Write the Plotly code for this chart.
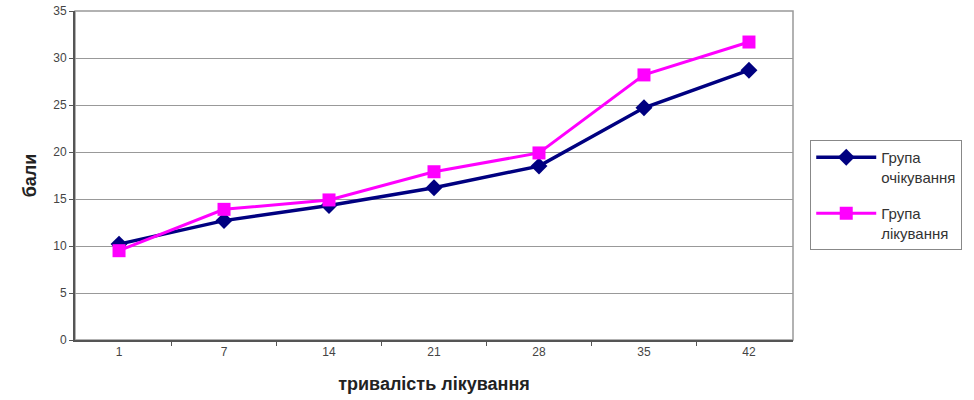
import plotly.graph_objects as go

# days of treatment (category axis)
days = ["1", "7", "14", "21", "28", "35", "42"]

# scores
waiting_group = [10.2, 12.7, 14.3, 16.2, 18.5, 24.7, 28.7]
treated_group = [9.5, 13.9, 14.9, 17.9, 19.9, 28.2, 31.7]

fig = go.Figure()

fig.add_trace(go.Scatter(
    x=days, y=waiting_group, mode="lines+markers",
    name="Група<br>очікування", legendgroup="waiting",
    line=dict(color="#000080", width=3.5),
    marker=dict(symbol="diamond", size=13, color="#000080"),
))
fig.add_trace(go.Scatter(
    x=days, y=treated_group, mode="lines+markers",
    name="Група<br>лікування", legendgroup="treated",
    line=dict(color="#FF00FF", width=3),
    marker=dict(symbol="square", size=13, color="#FF00FF"),
))

# grey frame round the plot area
fig.add_shape(type="rect", xref="paper", yref="paper", x0=0, y0=0, x1=1, y1=1,
              line=dict(color="#999999", width=1.5), layer="below")

fig.update_layout(
    width=974, height=400,
    margin=dict(l=75, r=181, t=11, b=60),
    plot_bgcolor="white", paper_bgcolor="white",
    font=dict(family="Liberation Sans, Arial, sans-serif", color="#333333"),
    legend=dict(
        x=1.024, y=0.608, xanchor="left", yanchor="top",
        bordercolor="#888888", borderwidth=1,
        font=dict(size=15, color="#333333"),
        tracegroupgap=14, itemwidth=60, valign="top",
    ),
)

fig.update_xaxes(
    type="category",
    showline=True, linecolor="#555555", linewidth=2,
    ticks="outside", tickson="boundaries", ticklen=4, tickcolor="#555555",
    showgrid=False,
    tickfont=dict(size=12, color="#444444"),
    title=dict(text="<b>тривалість лікування</b>", font=dict(size=18, color="#222222"), standoff=19),
    automargin=False,
)
fig.update_yaxes(
    range=[0, 35], dtick=5,
    showline=True, linecolor="#555555", linewidth=2,
    ticks="outside", ticklen=4, tickcolor="#555555",
    showgrid=True, gridcolor="#999999", gridwidth=1,
    zeroline=False,
    tickfont=dict(size=12, color="#444444"),
    title=dict(text="<b>бали</b>", font=dict(size=18, color="#222222"), standoff=12),
    automargin=False,
)

# the page's default body margin would shift the chart by 8px
fig.write_html("out.html", config={"displayModeBar": False},
               post_script="document.body.style.margin = '0';")
